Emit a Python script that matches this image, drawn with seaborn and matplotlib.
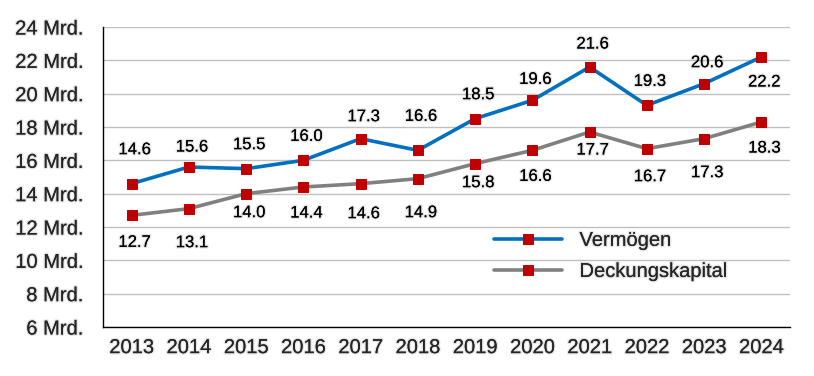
import numpy as np
import pandas as pd
import matplotlib
matplotlib.use("Agg")
import matplotlib.pyplot as plt
import matplotlib.patheffects as pe
import seaborn as sns

years = [2013, 2014, 2015, 2016, 2017, 2018, 2019, 2020, 2021, 2022, 2023, 2024]
vermoegen = [14.6, 15.6, 15.5, 16.0, 17.3, 16.6, 18.5, 19.6, 21.6, 19.3, 20.6, 22.2]
deckungskapital = [12.7, 13.1, 14.0, 14.4, 14.6, 14.9, 15.8, 16.6, 17.7, 16.7, 17.3, 18.3]
y_ticks = [6, 8, 10, 12, 14, 16, 18, 20, 22, 24]

# label offsets in pixels (placed by hand in the original, like Excel does)
off_verm = [-34, -20, -24, -24, -22, -34, -24, -21, -23, -24, -21, 25]
off_deck = [27, 34, 19, 26, 30, 34, 19, 26, 18, 28, 34, 26]

sns.set_theme(style="white")
plt.rcParams["font.family"] = ["Liberation Sans", "DejaVu Sans"]
plt.rcParams["font.size"] = 14.5

glow = [pe.withStroke(linewidth=2, foreground=(0, 0, 0, 0.10))]

df = pd.DataFrame({"Jahr": years, "Vermögen": vermoegen, "Deckungskapital": deckungskapital})

fig = plt.figure(figsize=(8.14, 3.76), dpi=100)
ax = fig.add_axes([0.1265, 0.1303, 0.8440, 0.7979])

ax.grid(axis="y", color="#c0c0c0", linewidth=1, zorder=0)
ax.set_axisbelow(True)

sns.lineplot(data=df, x="Jahr", y="Vermögen", ax=ax, color="#0070c0", linewidth=2.6,
             marker="s", markersize=6.5, markerfacecolor="#c00000", markeredgecolor="#c00000",
             label="Vermögen", legend=False, zorder=3)
sns.lineplot(data=df, x="Jahr", y="Deckungskapital", ax=ax, color="#808080", linewidth=2.6,
             marker="s", markersize=6.5, markerfacecolor="#c00000", markeredgecolor="#c00000",
             label="Deckungskapital", legend=False, zorder=3)

for x, v, o in zip(years, vermoegen, off_verm):
    ax.annotate(f"{v:.1f}", (x, v), xytext=(3, -o), textcoords="offset pixels",
                ha="center", va="center", fontsize=12, color="black", path_effects=glow)
for x, v, o in zip(years, deckungskapital, off_deck):
    ax.annotate(f"{v:.1f}", (x, v), xytext=(3, -o), textcoords="offset pixels",
                ha="center", va="center", fontsize=12, color="black", path_effects=glow)

ax.set_ylim(6, 24)
ax.set_xlim(years[0] - 0.5, years[-1] + 0.5)
ax.set_yticks(y_ticks)
ax.set_yticklabels([f"{t} Mrd." for t in y_ticks])
ax.set_xticks(np.arange(years[0] - 0.5, years[-1] + 1, 1))
ax.set_xticklabels([])
ax.set_xticks(years, minor=True)
ax.set_xticklabels([str(y) for y in years], minor=True)
ax.tick_params(axis="x", which="major", length=4, width=1, color="black", direction="out")
ax.tick_params(axis="x", which="minor", length=0, pad=8, labelsize=14.5)
ax.tick_params(axis="y", length=4, width=1, color="black", direction="out", pad=10, labelsize=14.5)
ax.set_xlabel("")
ax.set_ylabel("")

for s in ["top", "right"]:
    ax.spines[s].set_visible(False)
for s in ["left", "bottom"]:
    ax.spines[s].set_color("black")
    ax.spines[s].set_linewidth(1)

for t in ax.get_yticklabels() + ax.get_xticklabels(minor=True):
    t.set_path_effects(glow)

leg = ax.legend(loc="center left", bbox_to_anchor=(0.569, 0.237), frameon=False,
                handlelength=3.4, handletextpad=0.85, labelspacing=0.6,
                borderpad=0, borderaxespad=0, fontsize=14.5)
for t in leg.get_texts():
    t.set_path_effects(glow)

fig.savefig("out.png", dpi=100)
